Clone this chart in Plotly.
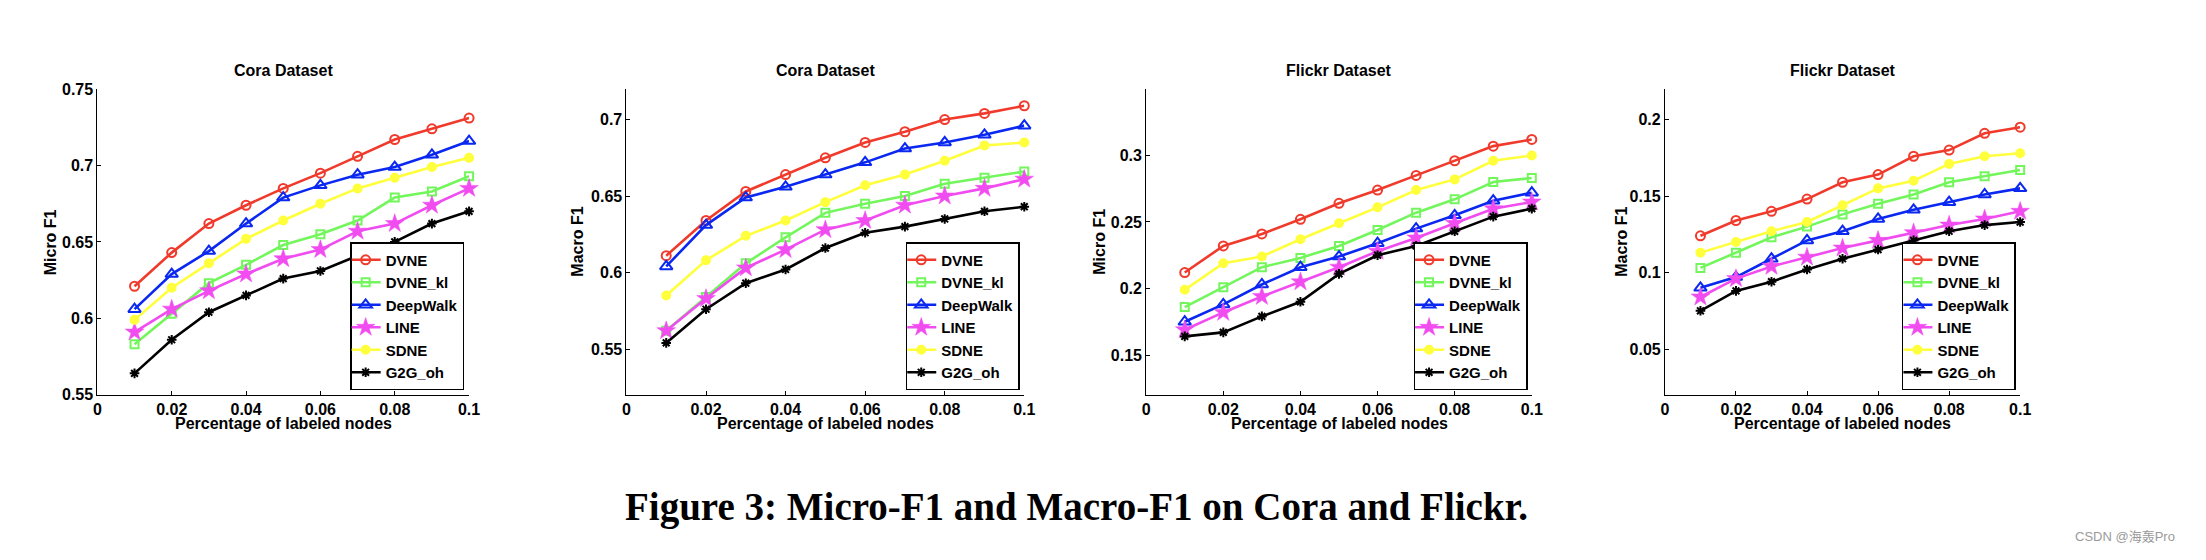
import plotly.graph_objects as go

W, H = 2206, 560

x_vals = [0.01, 0.02, 0.03, 0.04, 0.05, 0.06, 0.07, 0.08, 0.09, 0.10]
methods = ["DVNE", "DVNE_kl", "DeepWalk", "LINE", "SDNE", "G2G_oh"]

# Panel 1: Cora, Micro F1
cora_micro_dvne = [0.621, 0.643, 0.662, 0.674, 0.685, 0.695, 0.706, 0.717, 0.724, 0.731]
cora_micro_dvne_kl = [0.583, 0.603, 0.623, 0.635, 0.648, 0.655, 0.664, 0.679, 0.683, 0.693]
cora_micro_deepwalk = [0.606, 0.629, 0.644, 0.662, 0.679, 0.687, 0.694, 0.699, 0.707, 0.716]
cora_micro_line = [0.591, 0.606, 0.618, 0.629, 0.639, 0.645, 0.657, 0.662, 0.674, 0.685]
cora_micro_sdne = [0.599, 0.620, 0.636, 0.652, 0.664, 0.675, 0.685, 0.692, 0.699, 0.705]
cora_micro_g2g = [0.564, 0.586, 0.604, 0.615, 0.626, 0.631, 0.641, 0.650, 0.662, 0.670]

# Panel 2: Cora, Macro F1
cora_macro_dvne = [0.611, 0.634, 0.653, 0.664, 0.675, 0.685, 0.692, 0.700, 0.704, 0.709]
cora_macro_dvne_kl = [0.562, 0.584, 0.606, 0.623, 0.639, 0.645, 0.650, 0.658, 0.662, 0.666]
cora_macro_deepwalk = [0.604, 0.631, 0.649, 0.656, 0.664, 0.672, 0.681, 0.685, 0.690, 0.696]
cora_macro_line = [0.562, 0.583, 0.603, 0.615, 0.628, 0.634, 0.644, 0.650, 0.655, 0.661]
cora_macro_sdne = [0.585, 0.608, 0.624, 0.634, 0.646, 0.657, 0.664, 0.673, 0.683, 0.685]
cora_macro_g2g = [0.554, 0.576, 0.593, 0.602, 0.616, 0.626, 0.630, 0.635, 0.640, 0.643]

# Panel 3: Flickr, Micro F1
flickr_micro_dvne = [0.212, 0.232, 0.241, 0.252, 0.264, 0.274, 0.285, 0.296, 0.307, 0.312]
flickr_micro_dvne_kl = [0.186, 0.201, 0.216, 0.223, 0.232, 0.244, 0.257, 0.267, 0.280, 0.283]
flickr_micro_deepwalk = [0.175, 0.188, 0.203, 0.216, 0.224, 0.234, 0.245, 0.255, 0.266, 0.272]
flickr_micro_line = [0.169, 0.182, 0.194, 0.205, 0.216, 0.228, 0.238, 0.249, 0.260, 0.265]
flickr_micro_sdne = [0.199, 0.219, 0.224, 0.237, 0.249, 0.261, 0.274, 0.282, 0.296, 0.300]
flickr_micro_g2g = [0.164, 0.167, 0.179, 0.190, 0.211, 0.225, 0.232, 0.243, 0.254, 0.260]

# Panel 4: Flickr, Macro F1
flickr_macro_dvne = [0.124, 0.134, 0.140, 0.148, 0.159, 0.164, 0.176, 0.180, 0.191, 0.195]
flickr_macro_dvne_kl = [0.103, 0.113, 0.123, 0.130, 0.138, 0.145, 0.151, 0.159, 0.163, 0.167]
flickr_macro_deepwalk = [0.090, 0.097, 0.109, 0.121, 0.127, 0.135, 0.141, 0.146, 0.151, 0.155]
flickr_macro_line = [0.084, 0.096, 0.104, 0.110, 0.116, 0.121, 0.126, 0.131, 0.135, 0.140]
flickr_macro_sdne = [0.113, 0.120, 0.127, 0.133, 0.144, 0.155, 0.160, 0.171, 0.176, 0.178]
flickr_macro_g2g = [0.075, 0.088, 0.094, 0.102, 0.109, 0.115, 0.121, 0.127, 0.131, 0.133]

panel_titles = ["Cora Dataset", "Cora Dataset", "Flickr Dataset", "Flickr Dataset"]
y_titles = ["Micro F1", "Macro F1", "Micro F1", "Macro F1"]
x_title = "Percentage of labeled nodes"
x_tickvals = [0, 0.02, 0.04, 0.06, 0.08, 0.1]
x_ticktext = ["0", "0.02", "0.04", "0.06", "0.08", "0.1"]
y_tickvals = [
    [0.55, 0.60, 0.65, 0.70, 0.75],
    [0.55, 0.60, 0.65, 0.70],
    [0.15, 0.20, 0.25, 0.30],
    [0.05, 0.10, 0.15, 0.20],
]
y_ticktext = [
    ["0.55", "0.6", "0.65", "0.7", "0.75"],
    ["0.55", "0.6", "0.65", "0.7"],
    ["0.15", "0.2", "0.25", "0.3"],
    ["0.05", "0.1", "0.15", "0.2"],
]
y_ranges = [[0.5499, 0.7501], [0.52, 0.72], [0.12, 0.35], [0.02, 0.22]]
caption = "Figure 3: Micro-F1 and Macro-F1 on Cora and Flickr."
watermark = "CSDN @海轰Pro"

panels = [
    [cora_micro_dvne, cora_micro_dvne_kl, cora_micro_deepwalk, cora_micro_line, cora_micro_sdne, cora_micro_g2g],
    [cora_macro_dvne, cora_macro_dvne_kl, cora_macro_deepwalk, cora_macro_line, cora_macro_sdne, cora_macro_g2g],
    [flickr_micro_dvne, flickr_micro_dvne_kl, flickr_micro_deepwalk, flickr_micro_line, flickr_micro_sdne, flickr_micro_g2g],
    [flickr_macro_dvne, flickr_macro_dvne_kl, flickr_macro_deepwalk, flickr_macro_line, flickr_macro_sdne, flickr_macro_g2g],
]

# styling
colors = ["#f03a2c", "#72f65c", "#0a28f0", "#f04cf0", "#ffff3c", "#000000"]
symbols = ["circle-open", "square-open", "triangle-up-open", "star", "circle", "asterisk-open"]
msizes = [9, 8, 11, 14, 8, 8]

# axis pixel geometry (left, right) and (top, bottom)
x_px = [(94, 468.3), (626.7, 1027.3), (1150, 1538.3), (1672.3, 2030)]
y_top, y_bot = 83.3, 398.3
legend_right = [463.3, 1022.7, 1534, 2025.7]
legend_bottom = 393.3
ytitle_x = [47.7, 577.7, 1103.3, 1629]

def px(x):
    return x / W

def py(y):
    return (H - y) / H

FONT = "Liberation Sans, Arial, sans-serif"
fig = go.Figure()

for p in range(4):
    ax = "" if p == 0 else str(p + 1)
    leg = "legend" if p == 0 else "legend" + str(p + 1)
    for m in range(6):
        fig.add_trace(go.Scatter(
            x=x_vals, y=panels[p][m], name=methods[m], mode="lines+markers",
            xaxis="x" + ax, yaxis="y" + ax, legend=leg, cliponaxis=False,
            line=dict(color=colors[m], width=2.6),
            marker=dict(symbol=symbols[m], size=msizes[m], color=colors[m],
                        line=dict(color=colors[m], width=2 if m != 3 else 0.5)),
        ))
    xl, xr = x_px[p]
    fig.layout["xaxis" + ax] = dict(
        domain=[px(xl), px(xr)], anchor="y" + ax, range=[0, 0.10001],
        tickvals=x_tickvals, ticktext=x_ticktext, ticks="inside", ticklen=4,
        tickcolor="black", showline=True, linecolor="black", linewidth=1,
        showgrid=False, zeroline=False,
        tickfont=dict(family=FONT, size=16, color="black", weight="bold"),
    )
    fig.layout["yaxis" + ax] = dict(
        domain=[py(y_bot), py(y_top)], anchor="x" + ax, range=y_ranges[p],
        tickvals=y_tickvals[p], ticktext=y_ticktext[p], ticks="inside", ticklen=4,
        tickcolor="black", showline=True, linecolor="black", linewidth=1,
        showgrid=False, zeroline=False,
        tickfont=dict(family=FONT, size=16, color="black", weight="bold"),
    )
    fig.layout[leg] = dict(
        x=px(legend_right[p]), y=py(legend_bottom), xanchor="right", yanchor="bottom",
        bgcolor="white", bordercolor="black", borderwidth=1.5,
        font=dict(family=FONT, size=15, color="black", weight="bold"),
        tracegroupgap=0, itemwidth=30, indentation=-6,
    )
    cx = (xl + xr) / 2
    fig.add_annotation(x=px(cx), y=py(64), xref="paper", yref="paper",
                       xanchor="center", yanchor="middle",
                       text=panel_titles[p], showarrow=False,
                       font=dict(family=FONT, size=16, color="black", weight="bold"))
    fig.add_annotation(x=px(cx), y=py(428), xref="paper", yref="paper",
                       xanchor="center", yanchor="middle",
                       text=x_title, showarrow=False,
                       font=dict(family=FONT, size=16, color="black", weight="bold"))
    fig.add_annotation(x=px(ytitle_x[p]), y=py((y_top + y_bot) / 2), xref="paper", yref="paper",
                       xanchor="center", yanchor="middle",
                       text=y_titles[p], showarrow=False, textangle=-90,
                       font=dict(family=FONT, size=16, color="black", weight="bold"))

fig.add_annotation(x=px(1080), y=py(514), xref="paper", yref="paper",
                   xanchor="center", yanchor="middle",
                   text=caption, showarrow=False,
                   font=dict(family="Liberation Serif, serif", size=39, color="black", weight="bold"))
fig.add_annotation(x=px(2188), y=py(544), xref="paper", yref="paper",
                   xanchor="right", yanchor="middle",
                   text=watermark, showarrow=False,
                   font=dict(family="Liberation Sans, Noto Sans CJK SC, sans-serif", size=13, color="#9a9a9a"))

fig.update_layout(
    width=W, height=H, margin=dict(l=0, r=0, t=0, b=0),
    paper_bgcolor="white", plot_bgcolor="white", showlegend=True,
)

fig.write_html("out.html", config={"displayModeBar": False},
               post_script="document.body.style.margin='0';")
